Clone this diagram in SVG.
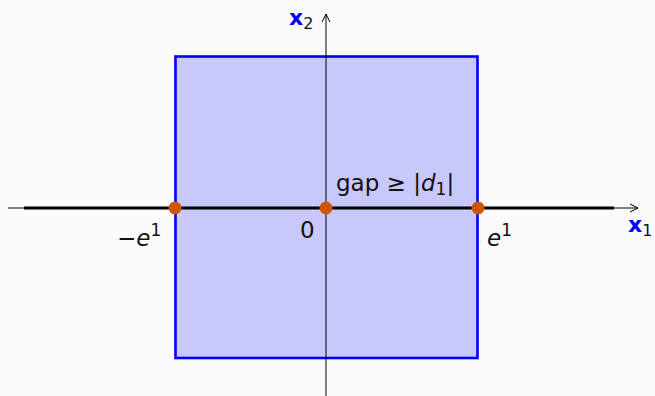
<svg xmlns="http://www.w3.org/2000/svg" width="655" height="396" viewBox="0 0 655 396">
<defs>
<marker id="arr" viewBox="0 0 10 10" refX="9" refY="5" markerWidth="10" markerHeight="10" markerUnits="userSpaceOnUse" orient="auto">
<path d="M1,1 L9,5 L1,9" fill="none" stroke="#000" stroke-width="1"/>
</marker>
<style>
.t{font-family:"DejaVu Sans","Liberation Sans",sans-serif;font-size:23px;fill:#111}
.ax{font-family:"DejaVu Sans","Liberation Sans",sans-serif;font-size:22px;font-weight:bold;fill:#0000ff}
.sub{font-family:"DejaVu Sans","Liberation Sans",sans-serif;font-size:16px;font-weight:normal;fill:#111}
.it{font-style:italic}
.dot{fill:#cc5500}
</style>
</defs>
<rect width="655" height="396" fill="#fafafa"/>
<g id="square">
<rect x="175.5" y="56.5" width="302" height="301.5" fill="#0000ff" fill-opacity="0.2" stroke="#0000ff" stroke-width="2.6"/>
</g>
<g id="connectors">
<line x1="326" y1="396" x2="326" y2="14" stroke="#000" stroke-width="1" marker-end="url(#arr)"/>
<line x1="8" y1="208" x2="638" y2="208" stroke="#000" stroke-width="1" marker-end="url(#arr)"/>
<line x1="24" y1="208" x2="614" y2="208" stroke="#000" stroke-width="3"/>
</g>
<g id="p-neg"><circle class="dot" cx="175" cy="208" r="6.5"/></g>
<g id="p-zero"><circle class="dot" cx="326" cy="208" r="6.5"/></g>
<g id="p-pos"><circle class="dot" cx="478" cy="208" r="6.5"/></g>
<g id="labels">
<text class="ax" x="289" y="25">x<tspan class="sub" dy="4">2</tspan></text>
<text class="ax" x="628" y="232">x<tspan class="sub" dy="4">1</tspan></text>
<text class="t" x="117" y="246">−<tspan class="it">e</tspan><tspan font-size="17" dy="-10">1</tspan></text>
<text class="t" x="300" y="238">0</text>
<text class="t" x="487" y="246"><tspan class="it">e</tspan><tspan font-size="17" dy="-10">1</tspan></text>
<text class="t" x="336" y="191">gap ≥ |<tspan class="it">d</tspan><tspan font-size="17" dy="4">1</tspan><tspan dy="-4">|</tspan></text>
</g>
</svg>
